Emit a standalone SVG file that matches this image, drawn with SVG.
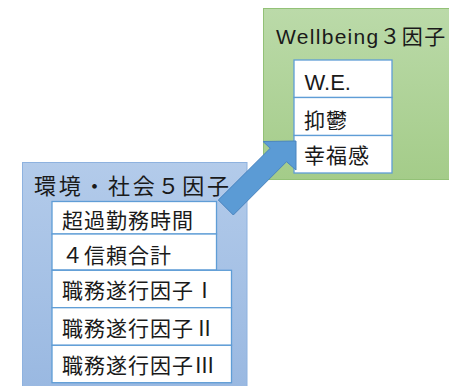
<svg xmlns="http://www.w3.org/2000/svg" width="449" height="386" viewBox="0 0 449 386">
  <defs>
    <linearGradient id="gGreen" x1="0" y1="0" x2="0" y2="1">
      <stop offset="0" stop-color="#bbdaa9"/>
      <stop offset="1" stop-color="#a4cc89"/>
    </linearGradient>
    <linearGradient id="gBlue" x1="0" y1="0" x2="0" y2="1">
      <stop offset="0" stop-color="#b3cbea"/>
      <stop offset="1" stop-color="#99b8e1"/>
    </linearGradient>
    <style>
      .title { font-family: "Noto Sans CJK JP", "Liberation Sans", sans-serif; fill: #1a1a1a; }
      .lat { font-family: "Liberation Sans", "Noto Sans CJK JP", sans-serif; }
      .cell { fill: #ffffff; stroke: #5f9dd6; stroke-width: 1.3; }
      .lbl { font-family: "Noto Sans CJK JP", "Liberation Sans", sans-serif; font-size: 21px; letter-spacing: 1px; fill: #1a1a1a; }
      .arrow { fill: #5b9bd5; stroke: #4a84bf; stroke-width: 1; stroke-linejoin: miter; }
    </style>
  </defs>

  <g id="wellbeing">
    <rect x="263.5" y="8.5" width="200" height="171" fill="url(#gGreen)" stroke="#93c177" stroke-width="1"/>
    <text class="title" x="276" y="44" font-size="21" letter-spacing="1.3"><tspan class="lat">Wellbeing</tspan>３因子</text>
  </g>
  <g id="we">
    <rect class="cell" x="294" y="60" width="98" height="37.5"/>
    <text class="lbl lat" x="304.5" y="90" font-size="22" letter-spacing="0" style="font-family:'Liberation Sans',sans-serif;letter-spacing:0;font-size:22px">W.E.</text>
  </g>
  <g id="yokuutsu">
    <rect class="cell" x="294" y="97.5" width="98" height="38"/>
    <text class="lbl" x="304" y="127.5">抑鬱</text>
  </g>
  <g id="kofukukan">
    <rect class="cell" x="294" y="135.5" width="98" height="37.5"/>
    <text class="lbl" x="304" y="162.5">幸福感</text>
  </g>

  <g id="kankyo">
    <rect x="22.5" y="162.5" width="224.5" height="230" fill="url(#gBlue)" stroke="#8eb2df" stroke-width="1"/>
    <text class="title" x="34" y="193.5" font-size="22" letter-spacing="2.7">環境・社会５因子</text>
  </g>
  <g id="chokakinmu">
    <rect class="cell" x="52" y="201.5" width="164.5" height="32.5"/>
    <text class="lbl" x="62" y="228">超過勤務時間</text>
  </g>
  <g id="shinrai">
    <rect class="cell" x="52" y="234" width="164.5" height="36"/>
    <text class="lbl" x="62" y="263">４信頼合計</text>
  </g>
  <g id="shokumu1">
    <rect class="cell" x="52" y="270.3" width="179.5" height="37.4"/>
    <text class="lbl" x="62" y="298">職務遂行因子Ⅰ</text>
  </g>
  <g id="shokumu2">
    <rect class="cell" x="52" y="307.7" width="179.5" height="37.6"/>
    <text class="lbl" x="62" y="335.5">職務遂行因子Ⅱ</text>
  </g>
  <g id="shokumu3">
    <rect class="cell" x="52" y="345.3" width="179.5" height="37.4"/>
    <text class="lbl" x="62" y="373">職務遂行因子Ⅲ</text>
  </g>

  <g id="connectors">
    <polygon class="arrow" points="218.3,200 270.2,148.3 263,141.5 296,141 296,170 286.5,161.7 233.3,215"/>
  </g>
</svg>
